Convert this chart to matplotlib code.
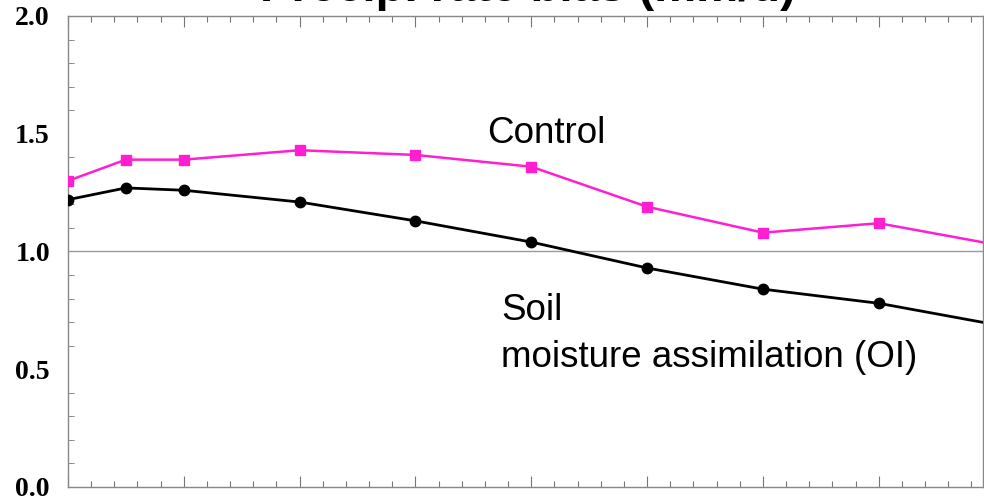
import numpy as np
import matplotlib.pyplot as plt
from matplotlib.ticker import MultipleLocator

# values
x = [0, 0.5, 1, 2, 3, 4, 5, 6, 7, 8]
control = [1.30, 1.39, 1.39, 1.43, 1.41, 1.36, 1.19, 1.08, 1.12, 1.03]
soil_oi = [1.22, 1.27, 1.26, 1.21, 1.13, 1.04, 0.93, 0.84, 0.78, 0.69]
yticks = [0.0, 0.5, 1.0, 1.5, 2.0]

pink = '#ff1fd0'

fig = plt.figure(figsize=(9.84, 4.98), dpi=100)
ax = fig.add_axes([0.0691, 0.0221, 0.9299, 0.9458])

ax.axhline(1.0, color='#9a9a9a', lw=1.0, zorder=1)
ax.plot(x, control, color=pink, lw=1.8, marker='s', ms=7.5, zorder=3)
ax.plot(x, soil_oi, color='black', lw=2.0, marker='o', ms=7.5, zorder=3)

ax.set_xlim(0, 7.9)
ax.set_ylim(0, 2.0)
ax.set_yticks(yticks)
ax.set_yticklabels([f'{v:.1f}' for v in yticks], family='Liberation Serif',
                   fontsize=20, fontweight='bold')
ax.yaxis.set_minor_locator(MultipleLocator(0.1))
ax.xaxis.set_major_locator(MultipleLocator(1))
ax.xaxis.set_minor_locator(MultipleLocator(0.2))
ax.set_xticklabels([])
ax.tick_params(axis='both', which='both', direction='in', color='#777777',
               top=True, right=False)
ax.tick_params(axis='x', which='major', length=8, width=0.8)
ax.tick_params(axis='x', which='minor', length=4, width=0.8)
ax.tick_params(axis='y', which='major', length=0, pad=13)
ax.tick_params(axis='y', which='minor', length=4, width=0.6)
for s in ax.spines.values():
    s.set_color('#888888')
    s.set_linewidth(1.0)

ax.text(3.62, 1.50, 'Control', family='Liberation Sans', fontsize=26.5,
        va='center', ha='left')
ax.text(3.74, 0.75, 'Soil', family='Liberation Sans', fontsize=26.5,
        va='center', ha='left')
ax.text(3.74, 0.55, 'moisture assimilation (OI)', family='Liberation Sans',
        fontsize=26.5, va='center', ha='left')

fig.text(0.537, 1 - 1 / 498, 'Precip. rate bias (mm/d)', family='Liberation Sans',
         fontsize=34, fontweight='bold', ha='center', va='baseline')

fig.savefig('out.png', dpi=100)
